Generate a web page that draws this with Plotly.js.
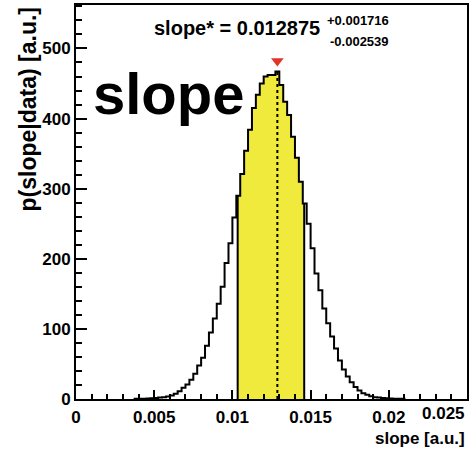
<!DOCTYPE html>
<html>
<head>
<meta charset="utf-8">
<script src="https://cdn.plot.ly/plotly-3.0.1.min.js"></script>
<style>
  html, body { margin: 0; padding: 0; background: #ffffff; }
  #chart { width: 470px; height: 449px; }
</style>
</head>
<body>
<div id="chart"></div>
<script>
// ---- data ----
const binWidth = 0.00025;
const firstBinLow = 0.00375;
const counts = [
  0.2, 0.3, 0.5, 0.8, 1, 1.5, 2, 2.5, 3.6, 5,
  7.4, 11.2, 16, 20.7, 27.4, 36, 47.8, 59, 76, 95,
  115, 136, 160, 194, 222, 259, 290, 321, 354, 384,
  415, 434, 450, 460, 462, 462, 467, 448, 424, 405,
  374, 344, 310, 279, 250, 215, 179, 155, 129, 108,
  89, 72, 55, 42, 32, 24, 17, 12, 8.3, 6,
  4, 2.6, 2, 1.5, 1, 0.7, 0.5, 0.3, 0.2
];
const slopeBest = 0.012875;
const errPlus = 0.001716;
const errMinus = 0.002539;
const markerValue = 482;
const xTickVals = [0, 0.005, 0.01, 0.015, 0.02, 0.025];
const xTickText = ["0", "0.005", "0.01", "0.015", "0.02", ""];
const yTickVals = [0, 100, 200, 300, 400, 500];
const xRange = [0, 0.025];
const yRange = [0, 562];

// ---- derived geometry ----
const n = counts.length;
const edges = [];
for (let i = 0; i <= n; i++) edges.push(firstBinLow + i * binWidth);
function countAt(x) {
  let i = Math.floor((x - firstBinLow) / binWidth);
  if (i < 0 || i >= n) return 0;
  return counts[i];
}

// outline staircase
const ox = [edges[0]], oy = [0];
for (let i = 0; i < n; i++) { ox.push(edges[i]); oy.push(counts[i]); }
ox.push(edges[n]); oy.push(counts[n - 1]);
ox.push(edges[n]); oy.push(0);

// yellow credible region
const lo = slopeBest - errMinus, hi = slopeBest + errPlus;
const fx = [lo], fy = [countAt(lo)];
for (let i = 0; i <= n; i++) {
  if (edges[i] > lo && edges[i] < hi) { fx.push(edges[i]); fy.push(counts[i]); }
}
fx.push(hi); fy.push(countAt(hi));

const font = "Liberation Sans, Arial, Helvetica, sans-serif";

const traces = [
  { type: "scatter", mode: "lines", x: fx, y: fy, line: { shape: "hv", width: 0, color: "rgba(0,0,0,0)" },
    fill: "tozeroy", fillcolor: "#f0ea3c", hoverinfo: "skip", showlegend: false },
  { type: "scatter", mode: "lines", x: ox, y: oy, line: { shape: "hv", width: 2, color: "#000" },
    hoverinfo: "skip", showlegend: false },
  { type: "scatter", mode: "lines", x: [lo, lo, null, hi, hi], y: [0, countAt(lo), null, 0, countAt(hi)],
    line: { width: 2, color: "#000" }, hoverinfo: "skip", showlegend: false },
  { type: "scatter", mode: "lines", x: [slopeBest, slopeBest], y: [0, countAt(slopeBest)],
    line: { width: 2, color: "#000", dash: "dot" }, hoverinfo: "skip", showlegend: false },
  { type: "scatter", mode: "markers", x: [slopeBest], y: [markerValue],
    marker: { symbol: "triangle-down", size: 11, color: "#e5332a" }, hoverinfo: "skip", showlegend: false }
];

const layout = {
  width: 470, height: 449,
  margin: { l: 76, r: 3, t: 5, b: 50, pad: 0 },
  paper_bgcolor: "#ffffff", plot_bgcolor: "#ffffff",
  showlegend: false,
  font: { family: font, color: "#000" },
  xaxis: {
    range: xRange, showgrid: false, zeroline: false,
    showline: true, linecolor: "#000", linewidth: 2, mirror: true,
    tickmode: "array", tickvals: xTickVals, ticktext: xTickText,
    ticks: "inside", ticklen: 9, tickwidth: 2, tickcolor: "#000",
    minor: { dtick: 0.001, tick0: 0, ticks: "inside", ticklen: 5, tickwidth: 2, tickcolor: "#000", showgrid: false },
    tickfont: { family: font, size: 17, weight: "bold", color: "#000" },
    ticklabelstandoff: 2
  },
  yaxis: {
    range: yRange, showgrid: false, zeroline: false,
    showline: true, linecolor: "#000", linewidth: 2, mirror: true,
    tickmode: "array", tickvals: yTickVals,
    ticks: "inside", ticklen: 11, tickwidth: 2, tickcolor: "#000",
    minor: { dtick: 20, tick0: 0, ticks: "inside", ticklen: 6, tickwidth: 2, tickcolor: "#000", showgrid: false },
    tickfont: { family: font, size: 17, weight: "bold", color: "#000" }
  },
  annotations: [
    { text: "0.025", xref: "x", x: 0.025, yref: "paper", y: 0, xanchor: "right", yanchor: "top", yshift: -3,
      showarrow: false, font: { family: font, size: 17, weight: "bold", color: "#000" } },
    { text: "slope [a.u.]", xref: "paper", x: 1, yref: "paper", y: -0.1, xanchor: "right", yanchor: "middle",
      showarrow: false, font: { family: font, size: 17, weight: "bold", color: "#000" } },
    { text: "p(slope|data) [a.u.]", xref: "paper", x: -0.1253, yref: "paper", y: 1, xanchor: "center", yanchor: "top",
      textangle: -90, showarrow: false, font: { family: font, size: 23, weight: "bold", color: "#000" } },
    { text: "slope", xref: "paper", x: 0.0384, yref: "paper", y: 0.7766, xanchor: "left", yanchor: "middle",
      showarrow: false, font: { family: font, size: 58, weight: "bold", color: "#000" } },
    { text: "slope* = " + slopeBest.toFixed(6), xref: "paper", x: 0.1944, yref: "paper", y: 0.9416, xanchor: "left", yanchor: "middle",
      showarrow: false, font: { family: font, size: 20, weight: "bold", color: "#000" } },
    { text: "+" + errPlus.toFixed(6), xref: "paper", x: 0.8056, yref: "paper", y: 0.9607, xanchor: "right", yanchor: "middle",
      showarrow: false, font: { family: font, size: 13, weight: "bold", color: "#000" } },
    { text: "-" + errMinus.toFixed(6), xref: "paper", x: 0.8056, yref: "paper", y: 0.9061, xanchor: "right", yanchor: "middle",
      showarrow: false, font: { family: font, size: 13, weight: "bold", color: "#000" } }
  ]
};

Plotly.newPlot("chart", traces, layout, { staticPlot: true, displayModeBar: false });
</script>
</body>
</html>
